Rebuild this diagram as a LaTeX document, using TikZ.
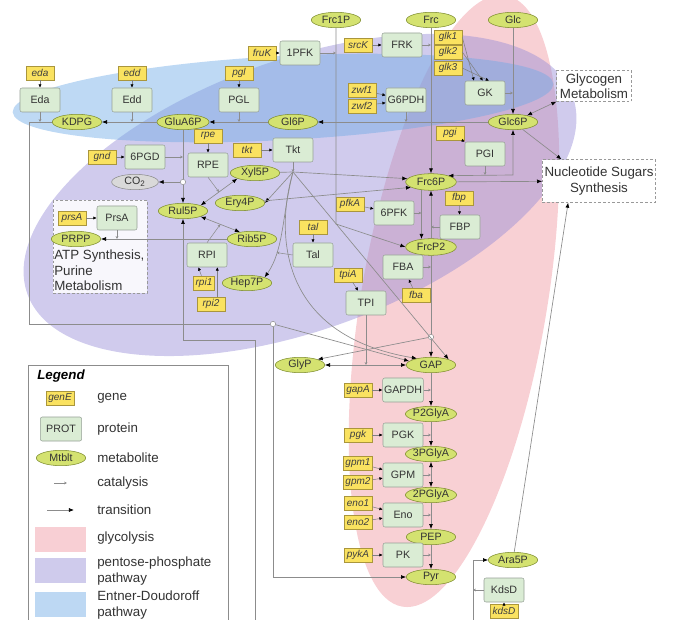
\documentclass[tikz,border=0pt]{standalone}
\usepackage{fontspec}
\setmainfont{Liberation Sans}
\usetikzlibrary{arrows.meta,shapes.geometric}
\definecolor{lineg}{RGB}{140,140,140}
\definecolor{protfill}{RGB}{218,236,212}
\definecolor{protline}{RGB}{150,160,150}
\definecolor{genefill}{RGB}{250,226,96}
\definecolor{geneline}{RGB}{170,150,60}
\definecolor{mtbfill}{RGB}{212,226,112}
\definecolor{mtbline}{RGB}{125,140,45}
\definecolor{glyco}{RGB}{240,150,160}
\definecolor{ppp}{RGB}{150,140,215}
\definecolor{edpw}{RGB}{110,170,230}
\tikzset{
  prot/.style={draw=protline, fill=protfill, rounded corners=1.5pt, minimum width=30pt, minimum height=18pt, inner sep=1pt, font=\fontsize{8}{9}\selectfont, text=black!80},
  gene/.style={draw=geneline, fill=genefill, minimum width=21pt, minimum height=10.5pt, inner sep=1.5pt, font=\fontsize{7.5}{8}\selectfont\itshape, text=black!75},
  mtb/.style={ellipse, draw=mtbline, fill=mtbfill, minimum width=37pt, minimum height=11.5pt, inner sep=0pt, font=\fontsize{8}{9}\selectfont, text=black!80},
  junc/.style={circle, draw=lineg, fill=white, inner sep=0pt, minimum size=4pt},
  extbox/.style={draw=black!40, dash pattern=on 2pt off 1.5pt, fill=white, align=center, inner sep=1pt, font=\fontsize{10}{11.5}\selectfont, text=black!80},
  lgtext/.style={anchor=west, align=left, inner sep=0pt, font=\fontsize{10}{12.5}\selectfont, text=black!80},
  rline/.style={draw=lineg, line width=0.5pt},
  trans/.style={rline, -{Latex[black,length=3.8pt,width=3pt]}},
  rtrans/.style={rline, {Latex[black,length=3.8pt,width=3pt]}-{Latex[black,length=3.8pt,width=3pt]}},
  cat/.style={draw=lineg, line width=0.4pt, -{Stealth[lineg,length=2.2pt,width=2pt]}},
  enc/.style={draw=black!50, line width=0.4pt, -{Latex[black,length=2.5pt,width=2.4pt]}}
}
\begin{document}
\begin{tikzpicture}[x=0.75pt,y=-0.75pt]
\useasboundingbox (0,0) rectangle (675,620);
\clip (0,0) rectangle (675,620);

\fill[glyco, fill opacity=.45, rotate around={80.4:(454,301)}] (454,301) ellipse [x radius=232.5pt, y radius=69.75pt];
\fill[ppp, fill opacity=.45, rotate around={20:(300,195)}] (300,195) ellipse [x radius=217.5pt, y radius=101.25pt];
\fill[edpw, fill opacity=.45, rotate around={3:(283,98)}] (283,98) ellipse [x radius=203pt, y radius=31.5pt];

\draw[draw=black!40, dash pattern=on 2pt off 1.5pt, fill=white, fill opacity=.85] (53,200) rectangle (147,293);
\node[anchor=north west, align=left, inner sep=0pt, font=\fontsize{10}{11.6}\selectfont, text=black!80] (tAtp) at (54,250) {ATP Synthesis,\\Purine\\Metabolism};
\node[extbox, minimum width=56pt, minimum height=23pt] (nGlyc) at (594,86) {Glycogen\\Metabolism};
\node[extbox, minimum width=85pt, minimum height=32pt] (nNuc) at (599,181) {Nucleotide Sugars\\Synthesis};

\node[mtb] (mFrc1P) at (336,20) {Frc1P};
\node[mtb] (mFrc) at (431,20) {Frc};
\node[mtb] (mGlc) at (513,20) {Glc};
\node[mtb] (mKDPG) at (77,122) {KDPG};
\node[mtb] (mGluA6P) at (183,122) {GluA6P};
\node[mtb] (mGl6P) at (293,122) {Gl6P};
\node[mtb] (mGlc6P) at (513,122) {Glc6P};
\node[mtb, minimum width=38pt, minimum height=12.5pt] (mFrc6P) at (431,182) {Frc6P};
\node[mtb] (mXyl5P) at (255,173) {Xyl5P};
\node[mtb] (mEry4P) at (240,203) {Ery4P};
\node[mtb] (mRul5P) at (183,211) {Rul5P};
\node[mtb] (mRib5P) at (252,239) {Rib5P};
\node[mtb] (mHep7P) at (247,283) {Hep7P};
\node[mtb, minimum width=38pt, minimum height=12.5pt] (mFrcP2) at (431,247) {FrcP2};
\node[mtb] (mPRPP) at (76,239) {PRPP};
\node[mtb, draw=black!45, fill=black!15, minimum width=35pt, minimum height=11.5pt] (mCO2) at (135,182) {CO\textsubscript{2}};
\node[mtb] (mGlyP) at (300,365) {GlyP};
\foreach \mt/\yy in {GAP/365,P2GlyA/414,3PGlyA/454,2PGlyA/495,PEP/537,Pyr/577}
  \node[mtb] (m\mt) at (431,\yy) {\mt};
\node[mtb] (mAra5P) at (513,560) {Ara5P};

\node[prot] (p1PFK) at (300,53) {1PFK};
\node[prot] (pFRK) at (402,45) {FRK};
\node[prot] (pEda) at (40,100) {Eda};
\node[prot] (pEdd) at (132,100) {Edd};
\node[prot] (pPGL) at (239,100) {PGL};
\node[prot] (pG6PDH) at (406,100) {G6PDH};
\node[prot] (pGK) at (485,93) {GK};
\node[prot] (p6PGD) at (145,157) {6PGD};
\node[prot] (pRPE) at (208,165) {RPE};
\node[prot] (pTkt) at (293,150) {Tkt};
\node[prot] (pPGI) at (485,154) {PGI};
\node[prot] (p6PFK) at (394,213) {6PFK};
\node[prot] (pFBP) at (460,227) {FBP};
\node[prot] (pFBA) at (403,267) {FBA};
\node[prot] (pPrsA) at (117,218) {PrsA};
\node[prot] (pRPI) at (207,255) {RPI};
\node[prot] (pTal) at (313,255) {Tal};
\node[prot] (pTPI) at (366,303) {TPI};
\foreach \pr/\yy in {GAPDH/390,PGK/435,GPM/475,Eno/515,PK/555}
  \node[prot] (p\pr) at (403,\yy) {\pr};
\node[prot] (pKdsD) at (504,590) {KdsD};

\node[gene] (gfruK) at (262,53) {fruK};
\node[gene] (gsrcK) at (358,45) {srcK};
\foreach \ii/\yy in {1/37,2/52,3/68}
  \node[gene] (gglk\ii) at (448,\yy) {glk\ii};
\node[gene] (geda) at (40,73) {eda};
\node[gene] (gedd) at (132,73) {edd};
\node[gene] (gpgl) at (239,73) {pgl};
\node[gene] (gzwf1) at (362,90) {zwf1};
\node[gene] (gzwf2) at (362,106) {zwf2};
\node[gene] (gpgi) at (450,133) {pgi};
\node[gene] (grpe) at (208,136) {rpe};
\node[gene] (ggnd) at (102,157) {gnd};
\node[gene] (gtkt) at (247,150) {tkt};
\node[gene] (gfbp) at (459,198) {fbp};
\node[gene] (gpfkA) at (350,204) {pfkA};
\node[gene] (gprsA) at (72,218) {prsA};
\node[gene] (gtal) at (313,227) {tal};
\node[gene, minimum width=14pt] (grpi1) at (204,283) {rpi1};
\node[gene] (grpi2) at (211,304) {rpi2};
\node[gene] (gtpiA) at (348,275) {tpiA};
\node[gene] (gfba) at (416,295) {fba};
\foreach \gn/\yy in {gapA/390,pgk/435,gpm1/463,gpm2/482,eno1/503,eno2/522,pykA/555}
  \node[gene] (g\gn) at (358,\yy) {\gn};
\node[gene] (gkdsD) at (504,611) {kdsD};

\node[junc] (jEda) at (273,324) {};
\node[junc] (jGnd) at (183,182) {};
\node[junc] (jFba) at (431,337) {};
\coordinate (jTkt) at (293,172);
\coordinate (kEdaA) at (29,122);
\coordinate (kEdaB) at (29,324);
\coordinate (k1PFK) at (336,224);
\coordinate (kPGI) at (513,175);
\coordinate (kAraA) at (473,625);
\coordinate (kAraB) at (473,560);
\coordinate (kRulA) at (255,625);
\coordinate (kRulB) at (255,340);
\coordinate (kRulC) at (183,340);

\draw[enc] (gfruK) -- (p1PFK);
\draw[enc] (gsrcK) -- (pFRK);
\foreach \ii/\an in {1/132,2/100,3/72}
  \draw[enc] (gglk\ii.east) -- (pGK.\an);
\draw[enc] (geda) -- (pEda);
\draw[enc] (gedd) -- (pEdd);
\draw[enc] (gpgl) -- (pPGL);
\draw[enc] (gzwf1) -- (pG6PDH);
\draw[enc] (gzwf2) -- (pG6PDH);
\draw[enc] (gpgi) -- (pPGI);
\draw[enc] (grpe) -- (pRPE);
\draw[enc] (ggnd) -- (p6PGD);
\draw[enc] (gtkt) -- (pTkt);
\draw[enc] (gfbp) -- (pFBP);
\draw[enc] (gpfkA) -- (p6PFK);
\draw[enc] (gprsA) -- (pPrsA);
\draw[enc] (gtal) -- (pTal);
\draw[enc] (grpi1) -- (pRPI.235);
\draw[enc] (grpi2.north -| pRPI.310) -- (pRPI.310);
\draw[enc] (gtpiA) -- (pTPI);
\draw[enc] (gfba) -- (pFBA);
\foreach \gn/\pr in {gapA/GAPDH,pgk/PGK,gpm1/GPM,gpm2/GPM,eno1/Eno,eno2/Eno,pykA/PK}
  \draw[enc] (g\gn) -- (p\pr);
\draw[enc] (gkdsD) -- (pKdsD);

\draw[trans] (mGlc) -- (mGlc6P);
\draw[cat] (pGK.east) -- (pGK.east -| mGlc.south);
\draw[trans] (mFrc) -- (mFrc6P);
\draw[cat] (pFRK.east) -- (pFRK.east -| mFrc.south);
\draw[trans] (mFrc1P) -- (k1PFK) -- (mFrcP2.west);
\draw[cat] (p1PFK.east) -- (p1PFK.east -| mFrc1P.south);
\draw[rtrans] (mGlc6P) -- (kPGI) -- (mFrc6P.20);
\draw[cat] (pPGI.south) -- (pPGI.south |- kPGI);
\draw[rtrans] (mGlc6P) -- (nGlyc.south west);
\draw[trans] (mGlc6P) -- (nNuc.150);
\draw[trans] (mFrc6P) -- (nNuc);

\draw[trans] (mGlc6P) -- (mGl6P);
\draw[cat] (pG6PDH.south) -- (pG6PDH.south |- mGl6P.center);
\draw[trans] (mGl6P) -- (mGluA6P);
\draw[cat] (pPGL.south) -- (pPGL.south |- mGl6P.center);
\draw[trans] (mGluA6P) -- (mKDPG);
\draw[cat] (pEdd.south) -- (pEdd.south |- mKDPG.center);
\draw[rline] (mKDPG) -- (kEdaA) -- (kEdaB) -- (jEda);
\draw[cat] (pEda.south) -- (pEda.south |- mKDPG.center);
\draw[trans] (jEda) -- (mGAP.170);
\draw[trans] (jEda) -- (jEda |- mPyr.west) -- (mPyr);

\draw[rline] (mGluA6P) -- (jGnd);
\draw[trans] (jGnd) -- (mCO2);
\draw[trans] (jGnd) -- (mRul5P);
\draw[cat] (p6PGD.east) -- (p6PGD.east -| jGnd.center);
\draw[rtrans] (mRul5P.north east) -- (mXyl5P.south west) coordinate[pos=.5] (kRPE);
\draw[cat] (pRPE.south) -- (kRPE);
\draw[rtrans] (mRul5P.south east) -- (mRib5P.150) coordinate[pos=.5] (kRPI);
\draw[cat] (pRPI.north) -- (kRPI);
\draw[trans] (mRib5P.west) -- (mPRPP);
\draw[cat] (pPrsA.south) -- (pPrsA.south |- mPRPP.center);
\draw[trans] (kRulA) -- (kRulB) -- (kRulC) -- (mRul5P);

\draw[cat] (pTkt.south) -- (jTkt);
\draw[rline] (mXyl5P) -- (jTkt);
\draw[trans] (jTkt) -- (mFrc6P.172);
\draw[trans] (jTkt) -- (mEry4P.east);
\draw[trans] (jTkt) .. controls (282,215) and (284,250) .. (mHep7P.north east) coordinate[pos=.72] (kTal);
\draw[cat] (pTal.west) -- (kTal);
\draw[trans] (jTkt) -- (mGAP.north east);
\draw[trans] (jTkt) .. controls (276,230) and (276,335) .. (mGAP.155);
\draw[trans] (mEry4P.5) -- (mFrc6P.195);

\draw[trans] (mFrc6P.220) -- (mFrcP2.140);
\draw[cat] (p6PFK.east) -- (p6PFK.east -| mFrc6P.220);
\draw[trans] (mFrcP2) -- (mFrc6P);
\draw[cat] (pFBP.west) -- (pFBP.west -| mFrc6P.south);
\draw[rline] (mFrcP2) -- (jFba);
\draw[trans] (jFba) -- (mGAP);
\draw[trans] (jFba) -- (mGlyP.north east);
\draw[cat] (pFBA.east) -- (pFBA.east -| jFba.center);
\draw[rtrans] (mGlyP) -- (mGAP);
\draw[cat] (pTPI.south) -- (pTPI.south |- mGAP.center);

\draw[trans] (mGAP) -- (mP2GlyA);
\draw[trans] (mP2GlyA) -- (m3PGlyA);
\draw[rtrans] (m3PGlyA) -- (m2PGlyA);
\draw[trans] (m2PGlyA) -- (mPEP);
\draw[trans] (mPEP) -- (mPyr);
\foreach \pr in {GAPDH,PGK,GPM,Eno,PK}
  \draw[cat] (p\pr.east) -- (p\pr.east -| mGAP.center);

\draw[trans] (kAraA) -- (kAraB) -- (mAra5P);
\draw[cat] (pKdsD.west) -- (pKdsD.west -| kAraA);
\draw[trans] (mAra5P) -- (nNuc.215);

\draw[draw=black!45, fill=white] (28,365) rectangle (228,630);
\node[anchor=west, inner sep=0pt, font=\fontsize{10}{12}\selectfont\bfseries\itshape] (lgTitle) at (37,376) {Legend};
\node[gene] (lgGene) at (60,398) {genE};
\node[prot, minimum width=31pt] (lgProt) at (61,429) {PROT};
\node[mtb] (lgMtb) at (61,458) {Mtblt};
\coordinate (lgCatA) at (54,483);
\coordinate (lgCatB) at (67,483);
\draw[cat] (lgCatA) -- (lgCatB);
\coordinate (lgTrA) at (47,510);
\coordinate (lgTrB) at (74,510);
\draw[trans] (lgTrA) -- (lgTrB);
\foreach \yy/\cc in {527/glyco,558/ppp,592/edpw}
  \fill[\cc, fill opacity=.45] (35,\yy) rectangle (86,\yy+25);
\foreach \yy/\tt [count=\ii] in {398/gene,429/protein,458/metabolite,483/catalysis,510/transition,538/glycolysis}
  \node[lgtext] (lgT\ii) at (97,\yy) {\tt};
\node[lgtext] (lgT7) at (97,571) {pentose-phosphate\\pathway};
\node[lgtext] (lgT8) at (97,605) {Entner-Doudoroff\\pathway};
\end{tikzpicture}
\end{document}
